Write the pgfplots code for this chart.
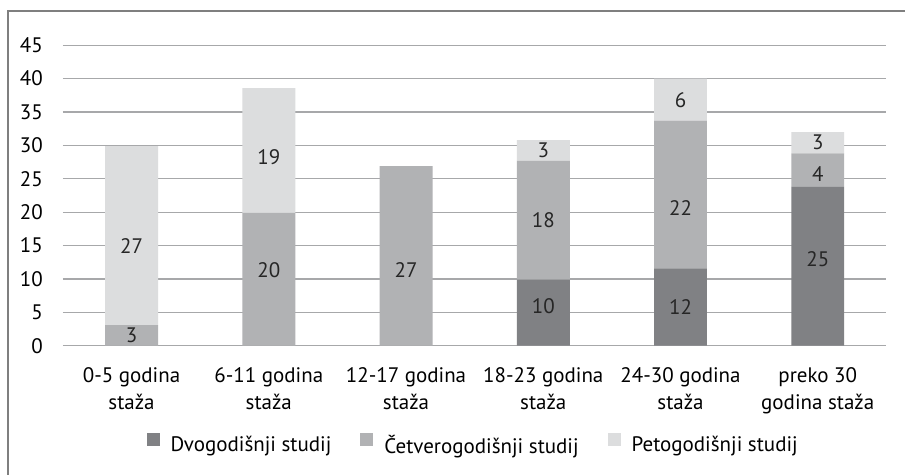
\documentclass[border=0pt]{standalone}
\usepackage{pgfplots}
\pgfplotsset{compat=1.18}
\usepackage{fontspec}
\setmainfont{PT Sans}
\definecolor{cdark}{HTML}{808184}
\definecolor{cmid}{HTML}{B1B2B4}
\definecolor{clight}{HTML}{DCDDDE}
\definecolor{cgrid}{HTML}{A7A8AA}
\definecolor{cframe}{HTML}{7F7F7F}
\newcommand{\cf}{\fontsize{21}{26.5}\selectfont}
\begin{document}
\begin{tikzpicture}[x=1pt,y=1pt]
\fill[white] (0,0) rectangle (906,475);
\draw[cframe, line width=1.3pt] (8,0) -- (8,464) -- (906,464);
\begin{axis}[
  at={(63pt,129pt)}, anchor=south west,
  width=824pt, height=300.7pt, scale only axis,
  xmin=-0.5, xmax=5.5, ymin=0, ymax=45,
  ytick={0,5,...,45},
  xtick={0,...,5},
  xticklabels={{0-5 godina\\staža},{6-11 godina\\staža},{12-17 godina\\staža},{18-23 godina\\staža},{24-30 godina\\staža},{preko 30\\godina staža}},
  ybar stacked, bar width=53pt,
  axis line style={draw=none},
  major tick length=0pt, tick style={draw=none},
  ymajorgrids, grid style={cgrid, line width=1.3pt},
  /pgf/number format/assume math mode=true,
  yticklabel style={font=\cf, anchor=east, inner sep=0pt, xshift=-20pt},
  xticklabel style={font=\cf, align=center, anchor=north, inner sep=0pt, yshift=-22pt},
  point meta=explicit symbolic,
  visualization depends on={rawy \as \rawy},
  visualization depends on={\thisrow{d} \as \dd},
  nodes near coords={\ifdim\rawy pt<0.01pt\else\pgfplotspointmeta\fi},
  every node near coord/.append style={font=\cf, anchor=center, inner sep=0pt, text=black!85, yshift={\dd*6.6822pt}},
  legend image code/.code={\fill[#1] (0pt,-0.5pt) rectangle (13pt,12.5pt);},
  legend columns=-1,
  legend style={draw=none, fill=none, font=\cf, at={(0.497,-0.326)}, anchor=center, inner sep=0pt,
    nodes={inner sep=0pt},
    /tikz/every odd column/.append style={column sep=11pt},
    /tikz/every even column/.append style={column sep=29pt}},
]
\addplot[fill=cdark, draw=none] table[x=x, y=y, meta=lab] {
x y lab d
0 0 0 0
1 0 0 0
2 0 0 0
3 9.9 10 0.95
4 11.6 12 0
5 23.8 25 1.0
};
\addlegendentry{Dvogodišnji studij}
\addplot[fill=cmid, draw=none] table[x=x, y=y, meta=lab] {
x y lab d
0 3.1 3 0
1 19.9 20 1.35
2 26.9 27 -2.05
3 17.8 18 0
4 22.1 22 -2.05
5 5.0 4 -0.6
};
\addlegendentry{Četverogodišnji studij}
\addplot[fill=clight, draw=none] table[x=x, y=y, meta=lab] {
x y lab d
0 26.8 27 -1.6
1 18.7 19 -0.95
2 0 0 0
3 3.1 3 0
4 6.3 6 0
5 3.2 3 0
};
\addlegendentry{Petogodišnji studij}
\end{axis}
\end{tikzpicture}
\end{document}
